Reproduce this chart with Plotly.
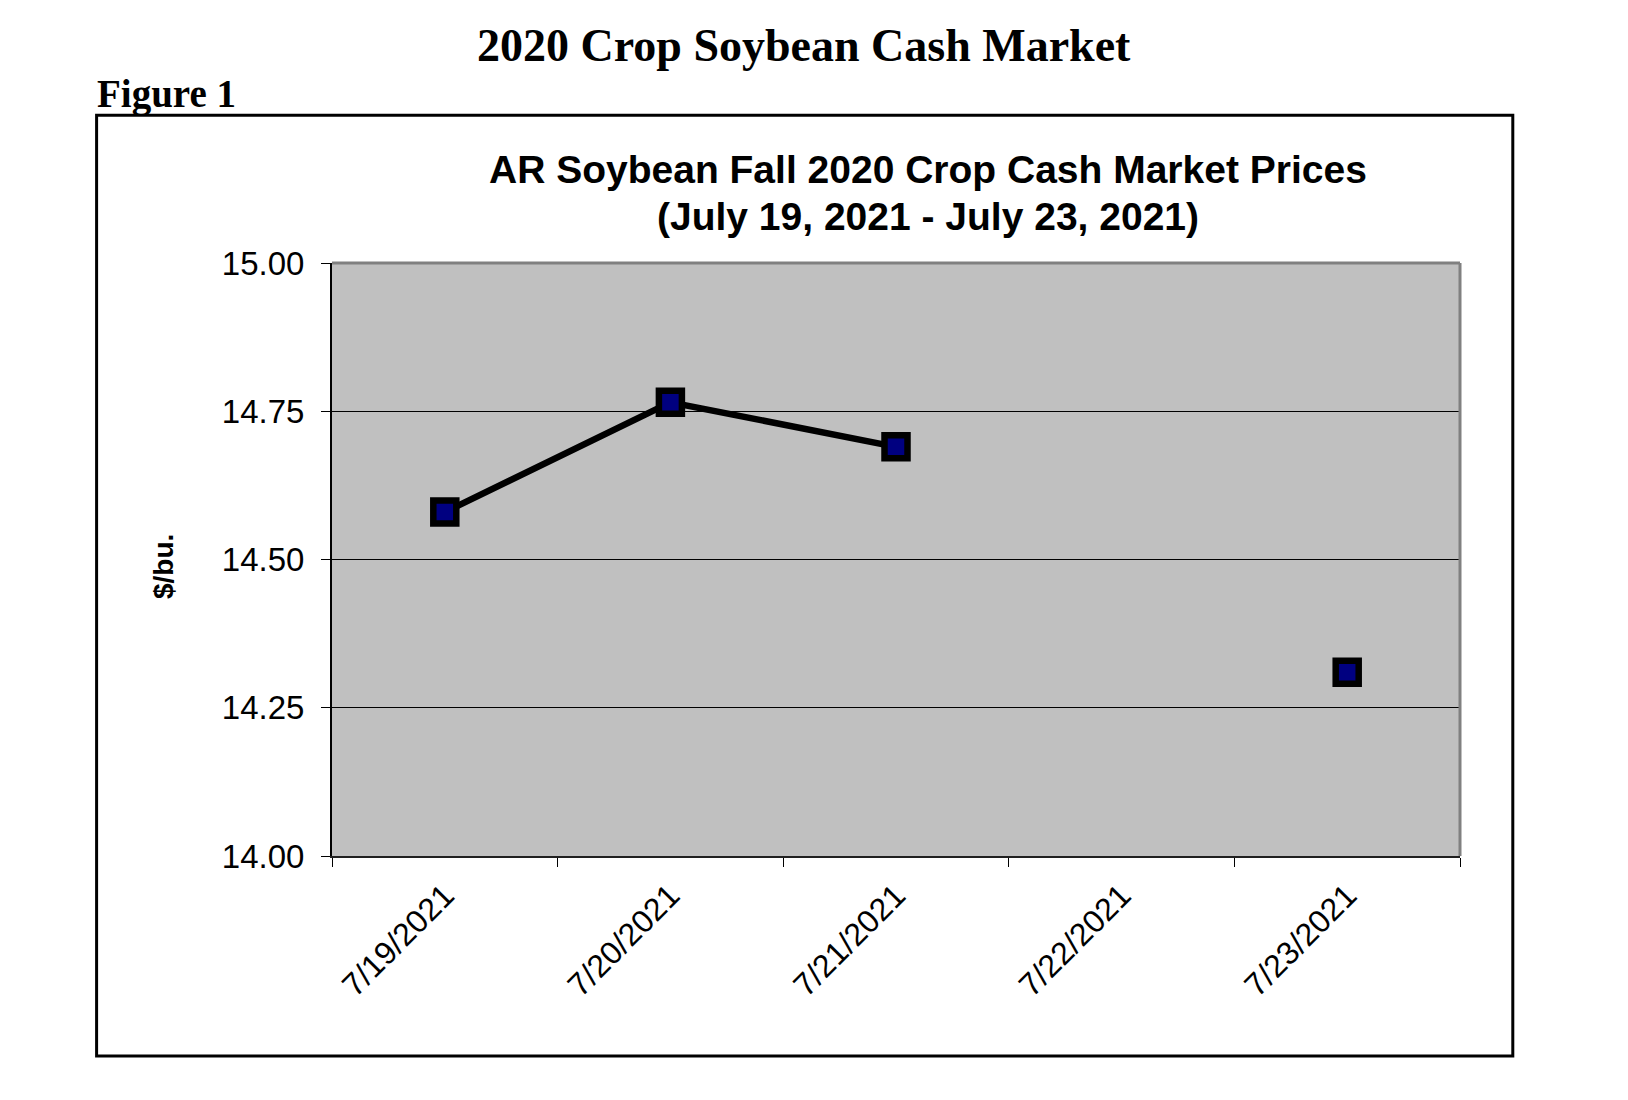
import plotly.graph_objects as go

dates = ["7/19/2021", "7/20/2021", "7/21/2021", "7/22/2021", "7/23/2021"]
prices = [14.58, 14.765, 14.69, None, 14.31]
y_ticks = [14.00, 14.25, 14.50, 14.75, 15.00]

W, H = 1628, 1100
OFF = 8  # page body margin offset
L, R, T, B = 332 - OFF, 168 + OFF, 263 - OFF, 244 + OFF
pw = W - L - R
ph = H - T - B

def px(x):
    return (x - OFF - L) / pw

def py(y):
    return (H - B - (y - OFF)) / ph

SANS = "Liberation Sans, Arial, sans-serif"
SERIF = "Liberation Serif, Times New Roman, serif"

fig = go.Figure()
fig.add_trace(go.Scatter(
    x=dates, y=prices, mode="lines+markers", connectgaps=False,
    line=dict(color="black", width=6.5),
    marker=dict(symbol="square", size=23, color="#000080",
                line=dict(color="black", width=6.5)),
    showlegend=False, hoverinfo="x+y",
))

fig.update_layout(
    width=W, height=H,
    margin=dict(l=L, r=R, t=T, b=B),
    paper_bgcolor="white",
    plot_bgcolor="#C0C0C0",
    font=dict(family=SANS, color="black"),
    xaxis=dict(
        type="category", categoryorder="array", categoryarray=dates,
        range=[-0.5, 4.5], tickson="boundaries", ticks="outside",
        ticklen=9, tickcolor="black", tickwidth=1, tickangle=-45,
        tickfont=dict(family=SANS, size=32, color="black"),
        showgrid=False, showline=True, linecolor="#202020", linewidth=2,
        zeroline=False, ticklabelstandoff=6,
    ),
    yaxis=dict(
        range=[14, 15], tickvals=y_ticks, ticktext=[f"{v:.2f}" for v in y_ticks],
        ticks="outside", ticklen=9, tickcolor="black", tickwidth=1,
        tickfont=dict(family=SANS, size=33, color="black"),
        showgrid=True, gridcolor="black", gridwidth=1,
        showline=True, linecolor="black", linewidth=2, zeroline=False,
        ticklabelstandoff=10,
    ),
    shapes=[
        dict(type="line", xref="paper", yref="paper", x0=0, x1=1, y0=1, y1=1,
             line=dict(color="#808080", width=3)),
        dict(type="line", xref="paper", yref="paper", x0=1, x1=1, y0=0, y1=1,
             line=dict(color="#808080", width=3)),
        dict(type="rect", xref="paper", yref="paper",
             x0=px(96.6), x1=px(1512.8), y0=py(1056), y1=py(115.2),
             line=dict(color="black", width=3), fillcolor="rgba(0,0,0,0)",
             layer="above"),
    ],
    annotations=[
        dict(text="<b>2020 Crop Soybean Cash Market</b>", xref="paper", yref="paper",
             x=px(803.6), y=py(45.7), xanchor="center", yanchor="middle",
             showarrow=False, font=dict(family=SERIF, size=46, color="black")),
        dict(text="<b>Figure 1</b>", xref="paper", yref="paper",
             x=px(95), y=py(93.5), xanchor="left", yanchor="middle",
             showarrow=False, font=dict(family=SERIF, size=39, color="black")),
        dict(text="<b>AR Soybean Fall 2020 Crop Cash Market Prices</b>",
             xref="paper", yref="paper", x=px(928), y=py(169.2),
             xanchor="center", yanchor="middle", showarrow=False,
             font=dict(family=SANS, size=39, color="black")),
        dict(text="<b>(July 19, 2021 - July 23, 2021)</b>",
             xref="paper", yref="paper", x=px(928), y=py(216),
             xanchor="center", yanchor="middle", showarrow=False,
             font=dict(family=SANS, size=39, color="black")),
        dict(text="<b>$/bu.</b>", xref="paper", yref="paper",
             x=px(163), y=py(567), xanchor="center", yanchor="middle",
             textangle=-90, showarrow=False,
             font=dict(family=SANS, size=28, color="black")),
    ],
)

fig.write_html("out.html")
